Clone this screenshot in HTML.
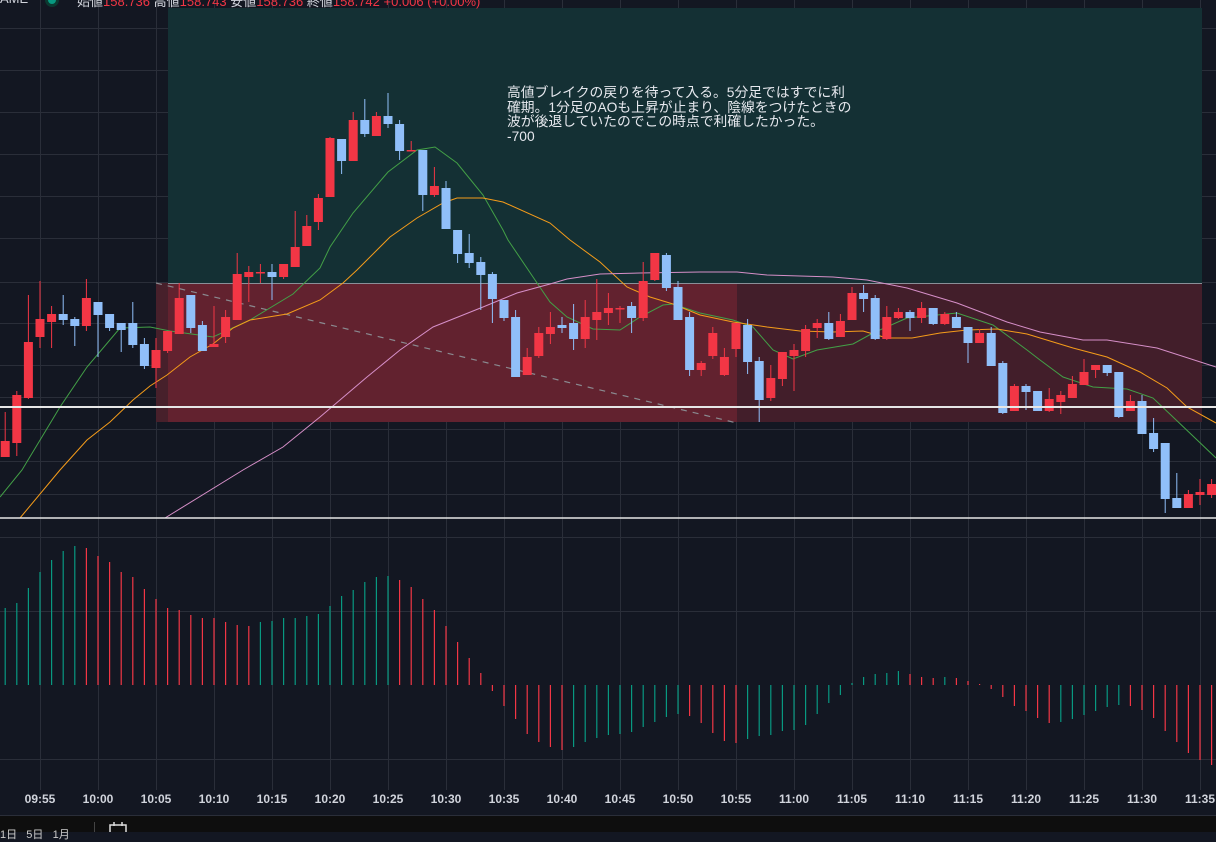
<!DOCTYPE html>
<html><head><meta charset="utf-8">
<style>
html,body{margin:0;padding:0;background:#131722;width:1216px;height:832px;overflow:hidden;font-family:"Liberation Sans","Noto Sans CJK JP",sans-serif}
svg{position:absolute;left:0;top:0}
.t{position:absolute;white-space:nowrap}
</style></head><body>
<svg id="s" width="1216" height="832" xmlns="http://www.w3.org/2000/svg">
<rect width="1216" height="832" fill="#131722"/>
<g id="grid" stroke="#2a2e39" stroke-width="1"></g>
<rect x="168" y="8" width="1034" height="275" fill="#143034"/>
<rect x="156" y="283" width="12" height="139" fill="#47202b"/>
<rect x="168" y="283" width="569" height="139" fill="#62222f"/>
<rect x="737" y="283" width="465" height="139" fill="#421e2a"/>
<line x1="168" y1="283.5" x2="1202" y2="283.5" stroke="#8a8f98" stroke-width="1"/>
<line x1="156" y1="283" x2="737" y2="423" stroke="#8a8a90" stroke-width="1.2" stroke-dasharray="6,6"/>
<g id="ma"></g>
<g id="cd"></g>
<line x1="0" y1="407" x2="1216" y2="407" stroke="#e6e6e6" stroke-width="2"/>
<line x1="0" y1="518" x2="1216" y2="518" stroke="#e6e6e6" stroke-width="1.5"/>
<g id="ao"></g>
<rect x="0" y="816" width="1216" height="16" fill="#0e0e0e"/>
<line x1="0" y1="815.5" x2="1216" y2="815.5" stroke="#2a2e39"/>
<line x1="94.5" y1="822" x2="94.5" y2="832" stroke="#444"/>
<rect x="110" y="825" width="16" height="10" fill="none" stroke="#ddd" stroke-width="1.5"/>
<line x1="114" y1="822" x2="114" y2="826" stroke="#ddd" stroke-width="1.5"/>
<line x1="122" y1="822" x2="122" y2="826" stroke="#ddd" stroke-width="1.5"/>
<circle cx="52" cy="0" r="7" fill="#0b3a31"/><circle cx="52" cy="0" r="4" fill="#089981"/>
</svg>
<div class="t" style="left:0;top:-9px;font-size:13px;color:#d1d4dc">AME</div>
<div class="t" style="left:77px;top:-9px;font-size:13px;color:#d1d4dc">始値<span style="color:#f23645">158.736</span> 高値<span style="color:#f23645">158.743</span> 安値<span style="color:#f23645">158.736</span> 終値<span style="color:#f23645">158.742</span> <span style="color:#f23645">+0.006 (+0.00%)</span></div>
<div class="t" style="left:507px;top:86px;font-size:13.8px;line-height:14.5px;color:#e6e8ee">高値ブレイクの戻りを待って入る。5分足ではすでに利<br>確期。1分足のAOも上昇が止まり、陰線をつけたときの<br>波が後退していたのでこの時点で利確したかった。<br>-700</div>
<div id="ax"></div>
<div class="t" style="left:0;top:826px;font-size:11px;color:#ccc">1日&nbsp;&nbsp;&nbsp;5日&nbsp;&nbsp;&nbsp;1月</div>
<script>
const NS="http://www.w3.org/2000/svg";
function el(p,t,a){const e=document.createElementNS(NS,t);for(const k in a)e.setAttribute(k,a[k]);p.appendChild(e);return e;}
const X=k=>40+11.6*k;
const g=document.getElementById('grid');
[28,70,112,154,196,238,282,323,365,397,429,461,494,537,611,759].forEach(y=>el(g,'line',{x1:0,x2:1216,y1:y+.5,y2:y+.5}));
for(let i=0;i<21;i++){const x=Math.round(40+58*i)+.5;el(g,'line',{x1:x,x2:x,y1:0,y2:790});}
const labs=["09:55","10:00","10:05","10:10","10:15","10:20","10:25","10:30","10:35","10:40","10:45","10:50","10:55","11:00","11:05","11:10","11:15","11:20","11:25","11:30","11:35"];
let ah="";labs.forEach((l,i)=>{ah+=`<div class="t" style="left:${40+58*i-20}px;width:40px;text-align:center;top:792px;font-size:12px;font-weight:bold;color:#d1d4dc">${l}</div>`;});
document.getElementById('ax').innerHTML=ah;
const C=[[457,441,412,457],[443,395,391,456],[398,342,295,399],[337,319,281,348],[322,314,306,348],[314,320,295,325],[319,326,317,346],[326,298,279,331],[302,315,302,357],[314,328,314,331],[323,330,323,352],[323,345,302,348],[344,366,338,369],[368,350,338,388],[351,331,331,353],
[334,298,283,334],[295,328,295,333],[325,351,321,351],[347,344,306,347],[337,317,310,343],[320,274,253,320],[277,272,266,302],[273,272,264,283],[272,277,264,300],[277,264,264,279],[267,247,211,267],[246,226,215,246],[222,198,194,230],[197,138,137,197],[139,161,139,174],[161,120,112,161],[120,134,99,137],[136,116,112,136],[116,124,93,128],[124,151,120,160],[151,150,141,151],[150,195,150,211],[195,186,167,197],[188,229,181,229],[230,254,230,263],[253,263,234,268],[262,275,257,310],[274,299,272,323],[300,318,300,321],[317,377,310,377],[375,357,348,375],[356,333,327,358],
[334,327,312,344],[325,328,317,333],[323,339,304,350],[339,317,300,348],[320,312,279,340],[313,308,293,325],[309,308,306,323],[306,318,302,333],[318,281,262,321],[280,253,253,281],[255,288,253,291],[287,320,281,320],[317,370,312,376],[370,363,361,376],[356,333,327,359],[375,357,348,376],[349,323,323,357],[325,362,319,374],[361,400,357,422],[398,378,365,401],[379,352,352,386],[356,350,344,391],[351,329,325,357],[328,323,319,338],[323,339,312,340],[337,321,314,337],
[320,293,287,320],[293,299,285,312],[298,339,295,340],[339,317,306,340],[318,312,308,319],[312,318,310,331],[318,308,302,323],[308,324,308,325],[324,314,312,325],[317,328,312,328],[327,343,327,363],[343,333,329,343],[333,366,327,366],[363,413,361,414],[411,386,384,411],[386,392,384,410],[391,411,391,411],[411,399,388,412],[402,395,391,414],[398,384,376,398],[385,372,359,385],[370,365,365,378],[365,373,365,376],[372,417,372,418],[411,401,395,411],[401,434,395,434],[433,449,418,452],[443,499,443,513],[498,508,473,508],[508,494,490,508],[495,492,479,505],[495,484,479,498]];
const cd=document.getElementById('cd');
C.forEach((c,i)=>{const k=i-3,x=X(k);const [o,cl,h,l]=c;const up=cl<o;const col=up?'#f23645':'#90bff9';
el(cd,'line',{x1:x,x2:x,y1:Math.min(h,o,cl),y2:Math.max(l,o,cl),stroke:col,'stroke-width':1});
const t=Math.min(o,cl),b=Math.max(o,cl);el(cd,'rect',{x:x-4.5,y:t,width:9,height:Math.max(b-t,1.5),fill:col});});
const ma=document.getElementById('ma');
function pl(pts,col){el(ma,'polyline',{points:pts.map(p=>p.join(',')).join(' '),fill:'none',stroke:col,'stroke-width':1});}
pl([[0,497],[22,470],[60,407],[87,367],[120,328],[150,327],[170,331],[213,337],[250,320],[293,294],[320,268],[330,247],[353,213],[388,172],[417,150],[435,147],[457,163],[483,195],[503,230],[508,240],[533,277],[550,302],[567,317],[593,329],[620,330],[640,317],[663,305],[673,304],[700,313],[733,320],[753,327],[773,350],[793,359],[817,350],[853,344],[873,333],[907,318],[957,313],[993,325],[1027,350],[1040,360],[1063,377],[1093,387],[1127,389],[1153,398],[1173,417],[1216,458]],'#43a047');
pl([[20,518],[60,470],[87,440],[110,422],[133,400],[150,386],[167,375],[190,357],[213,344],[233,328],[250,320],[287,314],[320,300],[343,283],[357,270],[390,237],[417,218],[443,203],[457,198],[483,198],[503,202],[550,223],[570,240],[600,262],[627,287],[650,297],[673,304],[700,315],[733,322],[767,327],[800,331],[833,332],[863,331],[887,338],[912,338],[940,333],[967,330],[997,329],[1027,334],[1073,348],[1107,357],[1140,372],[1167,388],[1187,407],[1216,423]],'#f59c1a');
pl([[165,518],[243,470],[283,447],[320,417],[367,377],[400,350],[433,327],[483,307],[517,293],[550,284],[567,279],[600,274],[640,273],[700,272],[737,272],[767,275],[833,277],[867,280],[907,288],[957,303],[1007,322],[1040,332],[1083,340],[1107,340],[1157,348],[1216,367]],'#d68fc8');
const A=[[608,1],[603,1],[588,1],[572,1],[560,1],[551,1],[546,1],[548,0],[556,0],[562,0],[572,0],[577,0],[589,0],[599,0],[608,0],[610,0],[615,0],[618,0],[618,0],[622,0],[625,0],[626,0],[622,1],[621,1],[618,1],[618,1],[616,1],[614,1],[606,1],[596,1],[590,1],[582,1],[577,1],[576,1],[580,0],[587,0],[599,0],[610,0],[626,0],[642,0],[658,0],[673,0],[691,0],[706,0],[719,0],[734,0],[742,0],[747,0],[750,0],[747,1],[742,1],[738,1],[735,1],[734,1],[732,1],[727,1],[722,1],[717,1],[714,1],[716,0],[723,0],[733,0],[741,0],[743,0],[739,1],[736,1],[735,1],[731,1],[730,1],[725,1],[714,1],[703,1],[695,1],[683,1],[677,1],[674,1],[673,1],[671,1],[674,0],[677,0],[678,0],[677,1],[678,0],[681,0],[684,0],[689,0],[697,0],[706,0],[711,0],[718,0],[723,0],[722,1],[719,1],[715,1],[711,1],[707,1],[705,1],[706,0],[710,0],[718,0],[731,0],[742,0],[753,0],[760,0],[765,0]];
const ao=document.getElementById('ao');
A.forEach((a,i)=>{const x=X(i-3);el(ao,'line',{x1:x,x2:x,y1:685,y2:a[0],stroke:a[1]?'#089981':'#f23645','stroke-width':1.2});});
</script>
</body></html>
